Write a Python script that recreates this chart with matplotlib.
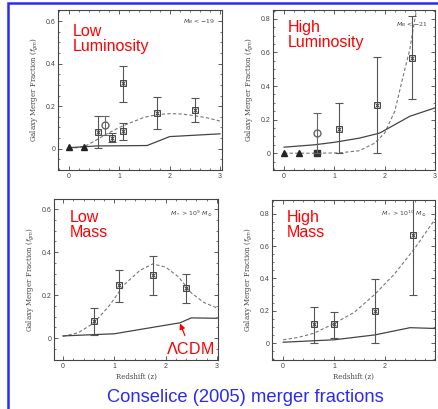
import numpy as np
import matplotlib
matplotlib.use("Agg")
import matplotlib.pyplot as plt
from matplotlib.patches import Rectangle
from matplotlib.ticker import MultipleLocator

plt.rcParams['font.family'] = ['Liberation Sans', 'DejaVu Sans']

# ---- datos ----
# Panel 1: baja luminosidad (M_B < -19)
z1 = [0.58, 0.85, 1.08, 1.08, 1.75, 2.5]
f1 = [0.08, 0.05, 0.31, 0.085, 0.17, 0.18]
lo1 = [0.005, 0.03, 0.22, 0.04, 0.094, 0.125]
hi1 = [0.155, 0.075, 0.39, 0.12, 0.245, 0.24]
tri1_z = [0.0, 0.3]
tri1_f = [0.01, 0.01]
circ1 = (0.72, 0.11, 0.065, 0.155)
dash1_z = [0, 0.3, 0.5, 0.75, 1.0, 1.25, 1.5, 1.75, 2.0, 2.25, 2.5, 2.75, 3.0]
dash1_f = [0.0, 0.01, 0.035, 0.07, 0.1, 0.125, 0.148, 0.16, 0.165, 0.163, 0.155, 0.145, 0.13]
lcdm1_z = [0, 0.55, 1.55, 2.0, 3.0]
lcdm1_f = [0.005, 0.013, 0.015, 0.057, 0.07]

# Panel 2: alta luminosidad (M_B < -21)
z2 = [1.1, 1.85, 2.55]
f2 = [0.145, 0.29, 0.57]
lo2 = [0.0, 0.0, 0.32]
hi2 = [0.30, 0.575, 0.82]
tri2_z = [0.0, 0.3, 0.65]
tri2_f = [0.0, 0.0, 0.0]
circ2 = (0.65, 0.12, 0.0, 0.24)
dash2_z = [0, 0.6, 1.1, 1.5, 1.8, 2.0, 2.2, 2.4, 2.5, 2.6, 2.7]
dash2_f = [0.0, 0.0, 0.002, 0.015, 0.06, 0.12, 0.25, 0.5, 0.62, 0.8, 0.95]
lcdm2_z = [0, 0.6, 1.0, 1.5, 1.9, 2.2, 2.5, 3.0]
lcdm2_f = [0.036, 0.05, 0.065, 0.09, 0.12, 0.17, 0.22, 0.27]

# Panel 3: baja masa (M* > 1e9)
z3 = [0.6, 1.1, 1.75, 2.4]
f3 = [0.08, 0.245, 0.295, 0.234]
lo3 = [0.014, 0.17, 0.20, 0.165]
hi3 = [0.14, 0.316, 0.38, 0.30]
dash3_z = [0, 0.3, 0.6, 0.9, 1.2, 1.5, 1.75, 2.0, 2.25, 2.5, 2.75, 3.0]
dash3_f = [0.008, 0.025, 0.07, 0.15, 0.25, 0.315, 0.345, 0.33, 0.285, 0.21, 0.165, 0.14]
lcdm3_z = [0, 1.0, 1.5, 2.0, 2.28, 2.5, 3.0]
lcdm3_f = [0.01, 0.02, 0.04, 0.06, 0.071, 0.094, 0.092]

# Panel 4: alta masa (M* > 1e10)
z4 = [0.6, 1.0, 1.8, 2.55]
f4 = [0.117, 0.115, 0.2, 0.67]
lo4 = [0.0, 0.03, 0.0, 0.30]
hi4 = [0.225, 0.195, 0.396, 0.95]
dash4_z = [0, 0.3, 0.6, 1.0, 1.4, 1.8, 2.2, 2.6, 3.0]
dash4_f = [0.02, 0.035, 0.06, 0.12, 0.19, 0.3, 0.43, 0.59, 0.77]
lcdm4_z = [0, 1.0, 1.8, 2.5, 3.0]
lcdm4_f = [0.005, 0.02, 0.05, 0.095, 0.09]

W, H = 438, 409
fig = plt.figure(figsize=(W / 100, H / 100), dpi=100)
fig.patch.set_facecolor('white')

gris = '#444444'


def caja(l, r, t, b):
    return [l / W, 1 - b / H, (r - l) / W, (b - t) / H]


def panel(rect, xlim, ylim, ymaj, z, f, lo, hi, dz, df, lz, lf, xlabel):
    ax = fig.add_axes(rect)
    ax.set_xlim(*xlim)
    ax.set_ylim(*ylim)
    ax.xaxis.set_major_locator(MultipleLocator(1))
    ax.xaxis.set_minor_locator(MultipleLocator(0.2))
    ax.yaxis.set_major_locator(MultipleLocator(ymaj))
    ax.yaxis.set_minor_locator(MultipleLocator(0.05))
    ax.tick_params(which='both', direction='in', top=True, right=True,
                   colors=gris, labelsize=5, pad=2)
    ax.tick_params(which='major', length=3, width=0.6)
    ax.tick_params(which='minor', length=1.5, width=0.5)
    ax.yaxis.set_major_formatter(plt.FuncFormatter(
        lambda v, p: '0' if abs(v) < 1e-9 else f'{v:.1f}'))
    for s in ax.spines.values():
        s.set_color(gris)
        s.set_linewidth(0.8)
    ax.set_ylabel(r'Galaxy Merger Fraction ($f_{gm}$)', fontsize=5,
                  color=gris, family='DejaVu Serif', labelpad=3)
    if xlabel:
        ax.set_xlabel('Redshift (z)', fontsize=5, color=gris,
                      family='DejaVu Serif', labelpad=2)
    ax.plot(dz, df, ls=(0, (3, 2)), color='#777777', lw=0.8)
    ax.plot(lz, lf, color='#444444', lw=0.9)
    f = np.array(f)
    err = [f - np.array(lo), np.array(hi) - f]
    ax.errorbar(z, f, yerr=err, fmt='none', ecolor='#555555',
                elinewidth=0.8, capsize=3, capthick=0.8)
    ax.plot(z, f, 's', ms=4, mfc='none', mec='#444444', mew=0.7)
    ax.plot(z, f, 'x', ms=3.5, color='#444444', mew=0.7)
    return ax


ax1 = panel(caja(58, 222, 10, 170), (-0.22, 3.04), (-0.1, 0.652), 0.2,
            z1, f1, lo1, hi1, dash1_z, dash1_f, lcdm1_z, lcdm1_f, False)
ax1.plot(tri1_z, tri1_f, '^', ms=4, color='#222222')
cz, cf, clo, chi = circ1
ax1.errorbar([cz], [cf], yerr=[[cf - clo], [chi - cf]], fmt='o', ms=5,
             mfc='none', mec='#666666', ecolor='#666666', elinewidth=0.8,
             capsize=3, capthick=0.8)
ax1.text(0.96, 0.93, r'$M_B$ < $-$19', transform=ax1.transAxes, ha='right',
         va='center', fontsize=4.5, color=gris, family='DejaVu Serif')

ax2 = panel(caja(273, 435, 10, 170), (-0.22, 3.0), (-0.1, 0.853), 0.2,
            z2, f2, lo2, hi2, dash2_z, dash2_f, lcdm2_z, lcdm2_f, False)
ax2.plot(tri2_z[:2], tri2_f[:2], '^', ms=4, color='#222222')
ax2.plot(tri2_z[2:], tri2_f[2:], 's', ms=4, color='#333333')
cz, cf, clo, chi = circ2
ax2.errorbar([cz], [cf], yerr=[[cf - clo], [chi - cf]], fmt='o', ms=5,
             mfc='none', mec='#666666', ecolor='#666666', elinewidth=0.8,
             capsize=3, capthick=0.8)
ax2.text(0.96, 0.91, r'$M_B$ < $-$21', transform=ax2.transAxes, ha='right',
         va='center', fontsize=4.5, color=gris, family='DejaVu Serif')

ax3 = panel(caja(54, 218, 199, 360), (-0.175, 3.02), (-0.102, 0.647), 0.2,
            z3, f3, lo3, hi3, dash3_z, dash3_f, lcdm3_z, lcdm3_f, True)
ax3.text(0.97, 0.91, r'$M_*$ > $10^9$ $M_\odot$', transform=ax3.transAxes,
         ha='right', va='center', fontsize=4.5, color=gris, family='DejaVu Serif')
ax3.annotate(r'$\Lambda$CDM', xy=(2.28, 0.068), xytext=(2.48, -0.05),
             ha='center', va='center', fontsize=11.5, color='red',
             arrowprops=dict(arrowstyle='-|>', color='red', lw=0.9,
                             mutation_scale=8, shrinkA=2, shrinkB=0))

ax4 = panel(caja(272, 435, 200, 360), (-0.22, 2.99), (-0.105, 0.885), 0.2,
            z4, f4, lo4, hi4, dash4_z, dash4_f, lcdm4_z, lcdm4_f, True)
ax4.text(0.95, 0.91, r'$M_*$ > $10^{10}$ $M_\odot$', transform=ax4.transAxes,
         ha='right', va='center', fontsize=4.5, color=gris, family='DejaVu Serif')

# etiquetas rojas
etiquetas = [("Low\nLuminosity", 73, 24), ("High\nLuminosity", 288, 20),
             ("Low\nMass", 70, 210), ("High\nMass", 287, 210)]
for txt, x, y in etiquetas:
    fig.text(x / W, 1 - y / H, txt, ha='left', va='top', fontsize=11.5,
             color='red', linespacing=1.0)

# marco azul y titulo
fig.patches.append(Rectangle((8 / W, -0.05), 1.1, 1 - 3 / H + 0.05,
                             transform=fig.transFigure, fill=False,
                             edgecolor='#2a2af5', lw=1.8))
fig.text(245 / W, 1 - 398 / H, 'Conselice (2005) merger fractions',
         ha='center', va='center', fontsize=13.2, color='#2a2af5')

fig.savefig('out.png', dpi=100)
